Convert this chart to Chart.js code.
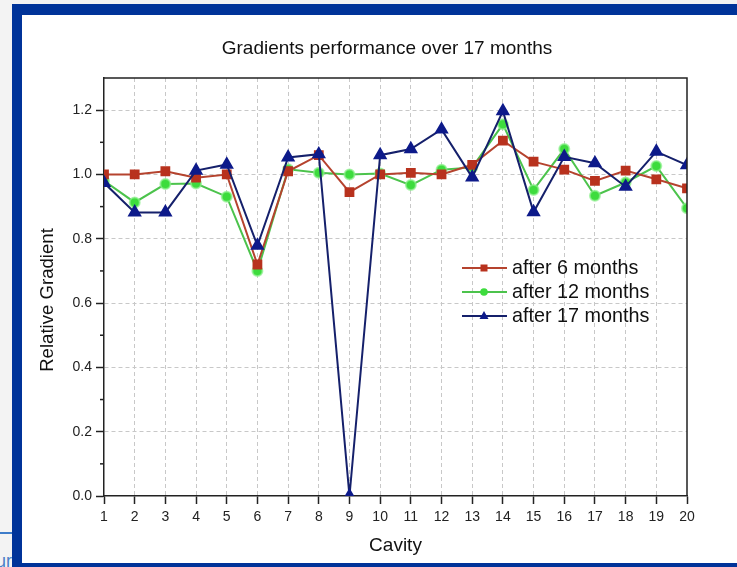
<!DOCTYPE html>
<html>
<head>
<meta charset="utf-8">
<script src="https://cdn.jsdelivr.net/npm/chart.js@4/dist/chart.umd.min.js"></script>
<style>
  html, body { margin: 0; padding: 0; }
  body { width: 737px; height: 567px; background: #f3f3f3; position: relative; overflow: hidden; font-family: "Liberation Sans", Arial, sans-serif; }
  #edgeLine { position: absolute; left: 0; top: 532px; width: 12px; height: 2px; background: #3d7cc9; }
  #edgeText { position: absolute; left: 0; top: 551px; width: 12px; overflow: hidden; text-align: right; color: #4a80c8; font-size: 18px; line-height: 20px; white-space: nowrap; direction: rtl; }
  #frame { position: absolute; left: 12px; top: 4px; width: 715px; height: 548px; border-left: 10px solid #003399; border-top: 11px solid #003399; border-bottom: 4px solid #003399; background: #fff; }
  #chart { display: block; }
</style>
</head>
<body>
<div id="edgeLine"></div>
<div id="edgeText">ur</div>
<div id="frame"><canvas id="chart" width="715" height="548"></canvas></div>
<script>
const chartTitle = 'Gradients performance over 17 months';
const yTitle = 'Relative Gradient';
const cavities = [1, 2, 3, 4, 5, 6, 7, 8, 9, 10, 11, 12, 13, 14, 15, 16, 17, 18, 19, 20];
const after6 = [1.00, 1.00, 1.01, 0.99, 1.00, 0.72, 1.01, 1.06, 0.945, 1.00, 1.005, 1.00, 1.03, 1.105, 1.04, 1.015, 0.98, 1.012, 0.985, 0.957];
const after12 = [0.98, 0.913, 0.97, 0.972, 0.931, 0.70, 1.016, 1.005, 1.00, 1.003, 0.967, 1.015, 1.022, 1.156, 0.952, 1.079, 0.934, 0.975, 1.026, 0.895];
const after17 = [0.974, 0.882, 0.882, 1.012, 1.031, 0.779, 1.053, 1.063, 0.0, 1.06, 1.079, 1.14, 0.991, 1.197, 0.883, 1.055, 1.035, 0.962, 1.071, 1.029];
const seriesNames = ['after 6 months', 'after 12 months', 'after 17 months'];

const FONT = '"Liberation Sans", Arial, sans-serif';

function toPoints(values) {
    return values.map((v, i) => ({ x: cavities[i], y: v }));
}

// title, y title, box frame, minor ticks and the in-plot legend
const extrasPlugin = {
    id: 'extras',
    afterDraw(chart) {
        const { ctx, chartArea: a, scales } = chart;
        ctx.save();
        // top and right frame lines
        ctx.strokeStyle = '#222';
        ctx.lineWidth = 1.5;
        ctx.beginPath();
        ctx.moveTo(a.left, a.top);
        ctx.lineTo(a.right, a.top);
        ctx.lineTo(a.right, a.bottom);
        ctx.stroke();

        // minor y ticks
        const ys = scales.y;
        ys.ticks.forEach((t, i) => {
            if (i % 2 === 1 && i < ys.ticks.length - 1) {
                const py = ys.getPixelForValue(t.value);
                ctx.beginPath();
                ctx.moveTo(a.left - 4, py);
                ctx.lineTo(a.left, py);
                ctx.stroke();
            }
        });

        // title
        ctx.fillStyle = '#111';
        ctx.font = '19px ' + FONT;
        ctx.textAlign = 'center';
        ctx.textBaseline = 'middle';
        ctx.fillText(chartTitle, 365, 34);

        // y axis title
        ctx.save();
        ctx.translate(26, 285);
        ctx.rotate(-Math.PI / 2);
        ctx.font = '18.6px ' + FONT;
        ctx.fillText(yTitle, 0, 0);
        ctx.restore();

        // legend
        const rows = [253, 277, 301];
        chart.data.datasets.forEach((ds, i) => {
            const y = rows[i];
            ctx.strokeStyle = ds.borderColor;
            ctx.lineWidth = 2;
            ctx.beginPath();
            ctx.moveTo(440, y);
            ctx.lineTo(485, y);
            ctx.stroke();
            ctx.fillStyle = ds.pointBackgroundColor;
            const cx = 462;
            ctx.beginPath();
            if (ds.pointStyle === 'rect') {
                ctx.rect(cx - 3.5, y - 3.5, 7, 7);
            } else if (ds.pointStyle === 'circle') {
                ctx.arc(cx, y, 3.8, 0, Math.PI * 2);
            } else {
                ctx.moveTo(cx, y - 5);
                ctx.lineTo(cx + 4.5, y + 3);
                ctx.lineTo(cx - 4.5, y + 3);
                ctx.closePath();
            }
            ctx.fill();
            ctx.fillStyle = '#111';
            ctx.font = '19.8px ' + FONT;
            ctx.textAlign = 'left';
            ctx.textBaseline = 'middle';
            ctx.fillText(ds.label, 490, y + 1);
        });
        ctx.restore();
    }
};

const ctx = document.getElementById('chart').getContext('2d');
new Chart(ctx, {
    type: 'line',
    data: {
        datasets: [
            {
                label: seriesNames[0],
                data: toPoints(after6),
                borderColor: '#b5432e',
                backgroundColor: '#b8321e',
                pointBackgroundColor: '#b8321e',
                pointBorderColor: '#b8321e',
                pointStyle: 'rect',
                pointRadius: 5.5,
                borderWidth: 2,
                order: 1
            },
            {
                label: seriesNames[1],
                data: toPoints(after12),
                borderColor: '#4cc34c',
                backgroundColor: '#3ddc3d',
                pointBackgroundColor: '#3ddc3d',
                pointBorderColor: 'rgba(140,240,140,0.7)',
                pointBorderWidth: 2,
                pointStyle: 'circle',
                pointRadius: 5,
                borderWidth: 2,
                order: 2
            },
            {
                label: seriesNames[2],
                data: toPoints(after17),
                borderColor: '#15206b',
                backgroundColor: '#0d1a8a',
                pointBackgroundColor: '#0d1a8a',
                pointBorderColor: '#0d1a8a',
                pointStyle: 'triangle',
                pointRadius: 6.3,
                borderWidth: 2,
                order: 0
            }
        ]
    },
    options: {
        responsive: false,
        animation: false,
        layout: { padding: { top: 63, right: 50, left: 0, bottom: 0 } },
        plugins: {
            legend: { display: false },
            tooltip: { enabled: false },
            title: { display: false }
        },
        elements: { line: { tension: 0 } },
        scales: {
            x: {
                type: 'linear',
                min: 1,
                max: 20,
                afterFit: s => { s.height = 67; },
                ticks: {
                    stepSize: 1,
                    autoSkip: false,
                    maxRotation: 0,
                    padding: 5,
                    color: '#222',
                    font: { family: FONT, size: 14 }
                },
                grid: {
                    color: c => (c.index === 0 || c.index === 19) ? 'transparent' : '#c8c8c8',
                    tickColor: '#222',
                    tickLength: 8,
                    tickWidth: 1.5,
                    lineWidth: 1
                },
                border: { color: '#222', width: 1.5, dash: [4, 3] },
                title: {
                    display: true,
                    text: 'Cavity',
                    color: '#111',
                    font: { family: FONT, size: 19 },
                    padding: { top: 0, bottom: 6 }
                }
            },
            y: {
                min: 0,
                max: 1.3,
                afterFit: s => { s.width = 82; },
                ticks: {
                    stepSize: 0.1,
                    padding: 4,
                    color: '#222',
                    font: { family: FONT, size: 14 },
                    callback: (v, i) => i % 2 === 0 ? v.toFixed(1) : ''
                },
                grid: {
                    color: c => (c.index % 2 === 0 && c.index > 0) ? '#c8c8c8' : 'transparent',
                    tickColor: c => c.index % 2 === 0 ? '#222' : 'transparent',
                    tickLength: 8,
                    tickWidth: 1.5,
                    lineWidth: 1
                },
                border: { color: '#222', width: 1.5, dash: [4, 3] }
            }
        }
    },
    plugins: [extrasPlugin]
});
</script>
</body>
</html>
